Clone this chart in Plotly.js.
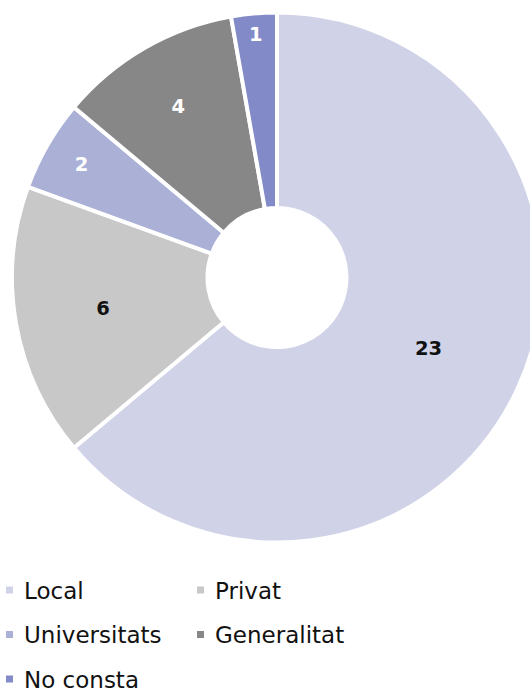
<!DOCTYPE html>
<html>
<head>
<meta charset="utf-8">
<script src="https://cdn.plot.ly/plotly-3.0.1.min.js"></script>
<style>
html,body{margin:0;padding:0;overflow:hidden;background:#fff;width:530px;height:691px;}
#chart{width:560px;height:691px;}
</style>
</head>
<body>
<div id="chart"></div>
<script>
const categories = ["Local", "Privat", "Universitats", "Generalitat", "No consta"];
const values = [23, 6, 2, 4, 1];
const colors = ["#d0d2e8", "#c8c8c8", "#aab0d6", "#878787", "#828bc8"];
const labelColors = ["#111111", "#111111", "#ffffff", "#ffffff", "#ffffff"];

const W = 560, H = 691;
const cx = 277, cy = 277.5, R = 265, holeR = 69.5;
const FONT = "'DejaVu Sans', 'Noto Sans', sans-serif";

const trace = {
  type: "pie",
  labels: categories,
  values: values,
  sort: false,
  direction: "clockwise",
  rotation: 0,
  hole: holeR / R,
  marker: {colors: colors, line: {color: "#ffffff", width: 4}},
  textinfo: "value",
  textposition: "inside",
  insidetextorientation: "horizontal",
  textfont: {family: FONT, size: 19.5, weight: "bold", color: labelColors},
  hoverinfo: "label+value",
  domain: {x: [(cx - R) / W, (cx + R) / W], y: [(H - (cy + R)) / H, (H - (cy - R)) / H]}
};

const layout = {
  width: W, height: H,
  margin: {l: 0, r: 0, t: 0, b: 0},
  paper_bgcolor: "#ffffff",
  showlegend: true,
  legend: {
    orientation: "h",
    x: 0, xanchor: "left",
    y: (H - 569) / H, yanchor: "top",
    entrywidth: 146, entrywidthmode: "pixels",
    font: {family: FONT, size: 23, color: "#111111"},
    traceorder: "normal"
  },
  font: {family: FONT}
};

Plotly.newPlot("chart", [trace], layout, {displayModeBar: false, staticPlot: true}).then(function(){
  document.querySelectorAll('.legendpoints path').forEach(function(p){
    p.setAttribute('d', 'M3.5,3.5H-3.5V-3.5H3.5Z');
    p.setAttribute('transform', 'translate(25.5,0)');
    p.style.strokeWidth = '0px';
  });
  // shift legend left and widen row spacing to match reference (44px between rows)
  const items = Array.from(document.querySelectorAll('.legend .traces'));
  const parse = function(t){ const m = /translate\(\s*([-\d.]+)[ ,]+([-\d.]+)/.exec(t || ''); return m ? [parseFloat(m[1]), parseFloat(m[2])] : [0,0]; };
  const pos = items.map(function(g){ return parse(g.getAttribute('transform')); });
  const ys = Array.from(new Set(pos.map(function(p){ return Math.round(p[1]); }))).sort(function(a,b){return a-b;});
  items.forEach(function(g, i){
    const r = ys.indexOf(Math.round(pos[i][1]));
    g.setAttribute('transform', 'translate(' + (pos[i][0] - 16) + ',' + (ys[0] + r * 44.5) + ')');
  });
  document.querySelectorAll('.legend .scrollbox, .legend').forEach(function(e){ e.removeAttribute('clip-path'); });
});
</script>
</body>
</html>
